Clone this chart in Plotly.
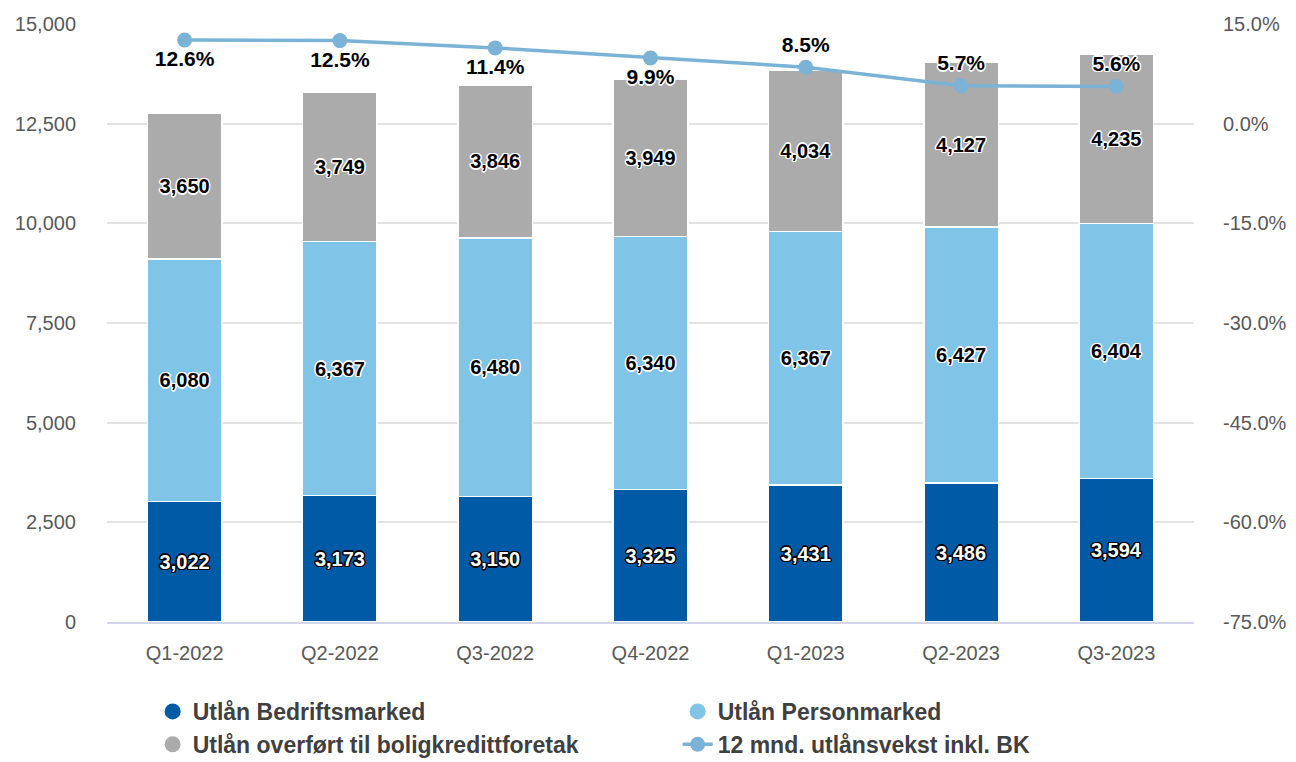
import plotly.graph_objects as go

quarters = ["Q1-2022", "Q2-2022", "Q3-2022", "Q4-2022", "Q1-2023", "Q2-2023", "Q3-2023"]
bedrift = [3022, 3173, 3150, 3325, 3431, 3486, 3594]
person = [6080, 6367, 6480, 6340, 6367, 6427, 6404]
boligkreditt = [3650, 3749, 3846, 3949, 4034, 4127, 4235]
vekst = [12.6, 12.5, 11.4, 9.9, 8.5, 5.7, 5.6]
vekst_pos = ["bottom center", "bottom center", "bottom center", "bottom center",
             "top center", "top center", "top center"]

pct_ticks = [-75, -60, -45, -30, -15, 0, 15]
pct_labels = ["-75.0%", "-60.0%", "-45.0%", "-30.0%", "-15.0%", "0.0%", "15.0%"]

names = ["Utlån Bedriftsmarked", "Utlån Personmarked",
         "Utlån overført til boligkredittforetak", "12 mnd. utlånsvekst inkl. BK"]

C_DARK = "#005AA6"
C_LIGHT = "#80C5E8"
C_GREY = "#ABABAB"
C_LINE = "#7AB3D5"

FONT = "Liberation Sans, Arial, sans-serif"


def outline(col):
    return ", ".join(f"{dx}px {dy}px 0 {col}" for dx, dy in
                     [(-1, -1), (1, -1), (-1, 1), (1, 1), (0, 1.5), (0, -1.5), (1.5, 0), (-1.5, 0)])


fig = go.Figure()

for vals, col, txtcol, shadow in [
    (bedrift, C_DARK, "white", outline("#000")),
    (person, C_LIGHT, "black", outline("#fff")),
    (boligkreditt, C_GREY, "black", outline("#fff")),
]:
    fig.add_trace(go.Bar(
        x=quarters, y=vals, marker=dict(color=col, line=dict(color="white", width=1.5)),
        texttemplate="%{y:,}", textposition="inside", insidetextanchor="middle",
        textangle=0, constraintext="none",
        textfont=dict(family=FONT, size=20, color=txtcol, weight="bold", shadow=shadow),
        showlegend=False, hoverinfo="skip",
    ))

# legend-only circle markers for the bar series
for nm, col in zip(names[:3], [C_DARK, C_LIGHT, C_GREY]):
    fig.add_trace(go.Scatter(x=[None], y=[None], mode="markers", name=nm,
                             marker=dict(color=col, size=22, symbol="circle")))

fig.add_trace(go.Scatter(
    x=quarters, y=vekst, yaxis="y2", name=names[3],
    mode="lines+markers+text",
    line=dict(color=C_LINE, width=3.5),
    marker=dict(color=C_LINE, size=15),
    texttemplate="%{y:.1f}%", textposition=vekst_pos,
    textfont=dict(family=FONT, size=21, color="black", weight="bold", shadow=outline("#fff")),
    cliponaxis=False,
))

fig.update_layout(
    width=1296, height=762,
    margin=dict(l=107, r=102, t=24, b=140, autoexpand=False),
    paper_bgcolor="white", plot_bgcolor="white",
    barmode="stack", bargap=0.52,
    font=dict(family=FONT, color="#595959"),
    xaxis=dict(showgrid=False, showline=True, linecolor="#D3D6E8", linewidth=2,
               ticks="", tickfont=dict(size=20, color="#595959"), ticklabelstandoff=12),
    yaxis=dict(range=[0, 15000], dtick=2500, tickformat=",", showgrid=True,
               gridcolor="#E3E3E3", gridwidth=2, zeroline=False,
               tickfont=dict(size=20, color="#595959"), ticklabelstandoff=30),
    yaxis2=dict(range=[-75, 15], tickmode="array", tickvals=pct_ticks, ticktext=pct_labels,
                overlaying="y", side="right", showgrid=False, zeroline=False,
                tickfont=dict(size=20, color="#595959"), ticklabelstandoff=28),
    legend=dict(orientation="h", x=0.042, xanchor="left", y=-0.1136, yanchor="top",
                entrywidth=480, entrywidthmode="pixels", traceorder="normal",
                font=dict(family=FONT, size=23, color="#404040", weight="bold"),
                itemsizing="trace", tracegroupgap=0),
)

fig.write_html("out.html")
